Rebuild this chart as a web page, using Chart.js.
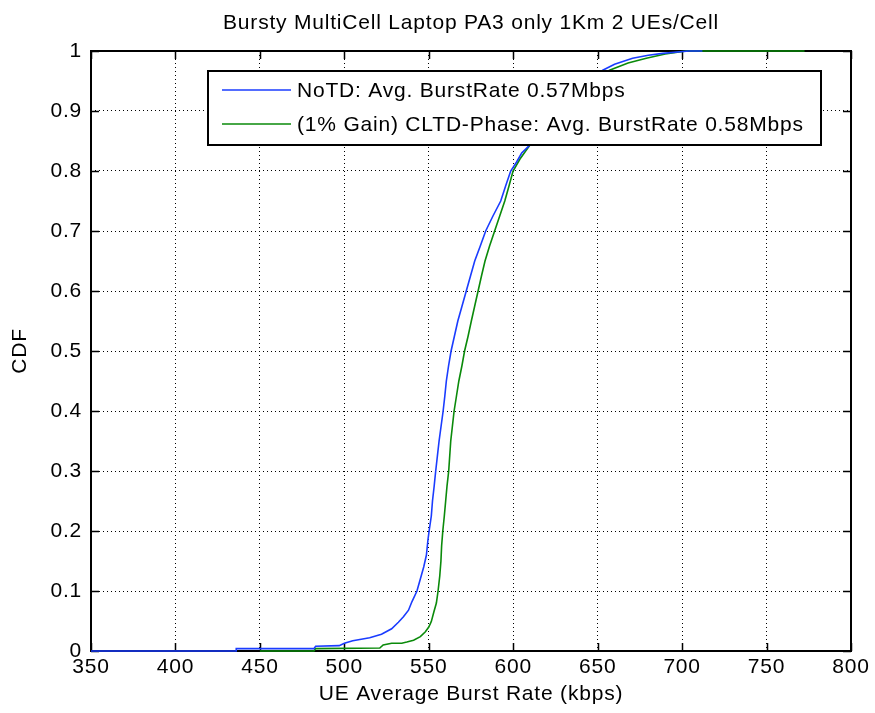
<!DOCTYPE html>
<html>
<head>
<meta charset="utf-8">
<title>Bursty MultiCell CDF</title>
<script src="https://cdn.jsdelivr.net/npm/chart.js@4.4.1/dist/chart.umd.min.js"></script>
<style>
  html, body { margin: 0; padding: 0; background: #ffffff; }
  #wrap { width: 875px; height: 713px; }
</style>
</head>
<body>
<div id="wrap"><canvas id="cdf" width="875" height="713"></canvas></div>
<script>
// ---- text ----
const chartTitle = 'Bursty MultiCell Laptop PA3 only 1Km 2 UEs/Cell';
const xAxisTitle = 'UE Average Burst Rate (kbps)';
const yAxisTitle = 'CDF';
const seriesNames = [
  'NoTD: Avg. BurstRate 0.57Mbps',
  '(1% Gain) CLTD-Phase: Avg. BurstRate 0.58Mbps'
];

// ---- axis ticks ----
const xTicks = [350, 400, 450, 500, 550, 600, 650, 700, 750, 800];
const yTicks = [0, 0.1, 0.2, 0.3, 0.4, 0.5, 0.6, 0.7, 0.8, 0.9, 1];

// ---- NoTD: burst rate (kbps) and cumulative probability ----
const noTdRate = [350, 436, 436, 482, 483, 497, 500, 505, 515, 522, 528, 532, 535, 538, 540, 543,
  545, 547, 548.6, 549.5, 550.2, 551.5, 552.2, 553.2, 554.1, 555.1, 556.1, 557.3, 558.5, 559.5,
  560.4, 561.7, 563.2, 565.2, 567.2, 569.7, 572.2, 574.7, 577.2, 580.5, 583.7, 588, 592.6,
  595.5, 598.5, 602, 605, 609.8, 616, 625, 635, 645, 653, 660, 670.7, 680, 688.5, 704, 712];
const noTdCdf = [0, 0, 0.004, 0.004, 0.008, 0.009, 0.013, 0.017, 0.022, 0.028, 0.037, 0.048, 0.057, 0.068, 0.082, 0.10,
  0.12, 0.14, 0.16, 0.185, 0.2, 0.225, 0.25, 0.275, 0.3, 0.325, 0.35, 0.375, 0.4, 0.425,
  0.45, 0.475, 0.5, 0.525, 0.55, 0.575, 0.6, 0.625, 0.65, 0.675, 0.7, 0.725, 0.75,
  0.775, 0.8, 0.815, 0.83, 0.843, 0.87, 0.9, 0.925, 0.95, 0.968, 0.978, 0.988, 0.993, 0.996, 1, 1];

// ---- CLTD-Phase: burst rate (kbps) and cumulative probability ----
const cltdRate = [450, 482, 483, 521, 523, 528, 534, 537, 541, 545, 548, 550, 551.5, 553, 554.5, 555.5,
  556.5, 557.2, 557.6, 558.3, 559.2, 560, 560.8, 561.8, 562.4, 563, 564, 565, 566.4, 567.8,
  569.6, 571.2, 573.3, 575.2, 577.2, 579.2, 581.2, 583.3, 586, 589, 592, 595, 597.5, 599.9,
  604, 609.8, 617, 626, 637, 647, 657, 668, 678.8, 690, 702.5, 772.5];
const cltdCdf = [0, 0, 0.004, 0.005, 0.01, 0.013, 0.013, 0.015, 0.018, 0.024, 0.032, 0.04, 0.049, 0.065, 0.08, 0.10,
  0.125, 0.15, 0.175, 0.2, 0.225, 0.25, 0.275, 0.3, 0.325, 0.35, 0.375, 0.4, 0.425, 0.45,
  0.475, 0.5, 0.525, 0.55, 0.575, 0.6, 0.625, 0.65, 0.675, 0.7, 0.725, 0.75, 0.775, 0.8,
  0.82, 0.843, 0.87, 0.9, 0.925, 0.95, 0.968, 0.98, 0.988, 0.995, 1, 1];

const toPoints = (xs, ys) => xs.map((x, i) => ({ x: x, y: ys[i] }));

const FONT_FAMILY = '"Liberation Sans", Arial, Helvetica, sans-serif';
const FONT_SIZE = 21;
const LETTER_SPACING = '0.8px';
const BLUE = '#1a3cff';
const GREEN = '#0a8a0a';

// letter spacing for every text drawn on the canvas
const spacingPlugin = {
  id: 'spacing',
  beforeInit(chart) { chart.ctx.letterSpacing = LETTER_SPACING; },
  beforeDraw(chart) { chart.ctx.letterSpacing = LETTER_SPACING; }
};

// title above the axes box
const titlePlugin = {
  id: 'topTitle',
  afterDraw(chart) {
    const { ctx, chartArea: a } = chart;
    ctx.save();
    ctx.letterSpacing = LETTER_SPACING;
    ctx.font = FONT_SIZE + 'px ' + FONT_FAMILY;
    ctx.fillStyle = '#000';
    ctx.textAlign = 'center';
    ctx.textBaseline = 'alphabetic';
    ctx.fillText(chartTitle, (a.left + a.right) / 2, 29);
    ctx.restore();
  }
};

// boxed legend inside the axes, drawn over the curves
const boxLegendPlugin = {
  id: 'boxLegend',
  afterDatasetsDraw(chart) {
    const { ctx } = chart;
    const box = { left: 208, top: 71, right: 821, bottom: 145 };
    const rows = [90, 124];
    ctx.save();
    ctx.fillStyle = '#fff';
    ctx.fillRect(box.left, box.top, box.right - box.left, box.bottom - box.top);
    ctx.strokeStyle = '#000';
    ctx.lineWidth = 2;
    ctx.strokeRect(box.left, box.top, box.right - box.left, box.bottom - box.top);
    ctx.letterSpacing = LETTER_SPACING;
    ctx.font = FONT_SIZE + 'px ' + FONT_FAMILY;
    ctx.textAlign = 'left';
    ctx.textBaseline = 'middle';
    chart.data.datasets.forEach((ds, i) => {
      const y = rows[i];
      ctx.strokeStyle = ds.borderColor;
      ctx.lineWidth = 1.5;
      ctx.beginPath();
      ctx.moveTo(222, y);
      ctx.lineTo(291, y);
      ctx.stroke();
      ctx.fillStyle = '#000';
      ctx.fillText(ds.label, 297, y + 1);
    });
    ctx.restore();
  }
};

// axes frame with inward tick marks on all four sides, beneath the curves
const framePlugin = {
  id: 'frame',
  beforeDatasetsDraw(chart) {
    const { ctx, chartArea: a, scales: { x, y } } = chart;
    const L = 8;
    ctx.save();
    ctx.strokeStyle = '#000';
    ctx.lineWidth = 1.5;
    ctx.beginPath();
    x.ticks.forEach(t => {
      const px = Math.round(x.getPixelForValue(t.value)) + 0.5;
      ctx.moveTo(px, a.bottom); ctx.lineTo(px, a.bottom - L);
      ctx.moveTo(px, a.top); ctx.lineTo(px, a.top + L);
    });
    y.ticks.forEach(t => {
      const py = Math.round(y.getPixelForValue(t.value)) + 0.5;
      ctx.moveTo(a.left, py); ctx.lineTo(a.left + L, py);
      ctx.moveTo(a.right, py); ctx.lineTo(a.right - L, py);
    });
    ctx.stroke();
    ctx.lineWidth = 2;
    ctx.strokeRect(a.left, a.top, a.right - a.left, a.bottom - a.top);
    ctx.restore();
  }
};

Chart.defaults.font.family = FONT_FAMILY;
Chart.defaults.font.size = FONT_SIZE;
Chart.defaults.color = '#000';

new Chart(document.getElementById('cdf'), {
  type: 'line',
  data: {
    datasets: [
      {
        label: seriesNames[0],
        data: toPoints(noTdRate, noTdCdf),
        borderColor: BLUE,
        borderWidth: 1.6,
        pointRadius: 0,
        tension: 0,
        fill: false,
        clip: false
      },
      {
        label: seriesNames[1],
        data: toPoints(cltdRate, cltdCdf),
        borderColor: GREEN,
        borderWidth: 1.6,
        pointRadius: 0,
        tension: 0,
        fill: false,
        clip: false
      }
    ]
  },
  options: {
    responsive: false,
    animation: false,
    devicePixelRatio: 1,
    layout: { padding: { left: 0, right: 24, top: 51, bottom: 0 } },
    plugins: {
      legend: { display: false },
      title: { display: false },
      tooltip: { enabled: false }
    },
    scales: {
      x: {
        type: 'linear',
        min: 350,
        max: 800,
        afterBuildTicks: s => { s.ticks = xTicks.map(v => ({ value: v })); },
        afterFit: s => { s.height = 62; },
        ticks: { padding: 4, maxRotation: 0, autoSkip: false, callback: v => String(v) },
        grid: { color: '#000', lineWidth: 1, drawTicks: false },
        border: { display: false, dash: [1, 3] },
        title: { display: true, text: xAxisTitle, padding: { top: 0, bottom: 6 } }
      },
      y: {
        type: 'linear',
        min: 0,
        max: 1,
        afterBuildTicks: s => { s.ticks = yTicks.map(v => ({ value: v })); },
        afterFit: s => { s.width = 91; },
        ticks: { padding: 9, autoSkip: false, callback: v => String(+Number(v).toFixed(1)) },
        grid: { color: '#000', lineWidth: 1, drawTicks: false },
        border: { display: false, dash: [1, 3] },
        title: { display: true, text: yAxisTitle, padding: { top: 8, bottom: 0 } }
      }
    }
  },
  plugins: [spacingPlugin, boxLegendPlugin, framePlugin, titlePlugin]
});
</script>
</body>
</html>
